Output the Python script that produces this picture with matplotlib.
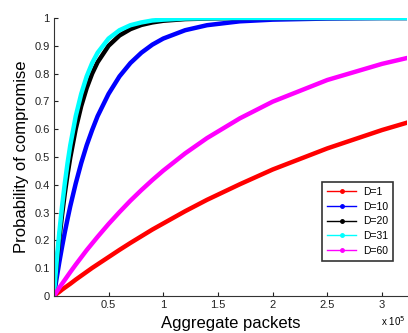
import matplotlib
matplotlib.use("Agg")
import matplotlib.pyplot as plt
from matplotlib.lines import Line2D

# x in units of 1e5 packets
packets = [0, 0.025, 0.05, 0.075, 0.1, 0.125, 0.15, 0.2, 0.25, 0.3, 0.35, 0.4,
           0.5, 0.6, 0.7, 0.8, 0.9, 1.0, 1.2, 1.4, 1.7, 2.0, 2.5, 3.0, 3.25]

d1 = [0, 0.008, 0.015, 0.023, 0.030, 0.037, 0.044, 0.059, 0.073, 0.087, 0.101, 0.114,
      0.140, 0.166, 0.191, 0.215, 0.239, 0.261, 0.305, 0.346, 0.402, 0.455, 0.531, 0.597, 0.626]
d10 = [0, 0.063, 0.122, 0.177, 0.229, 0.277, 0.323, 0.405, 0.478, 0.542, 0.597, 0.647,
       0.727, 0.790, 0.838, 0.875, 0.904, 0.926, 0.956, 0.974, 0.988, 0.994, 0.998, 1.0, 1.0]
d20 = [0, 0.109, 0.206, 0.292, 0.369, 0.437, 0.498, 0.601, 0.683, 0.748, 0.800, 0.841,
       0.900, 0.937, 0.960, 0.975, 0.984, 0.990, 0.996, 0.998, 1.0, 1.0, 1.0, 1.0, 1.0]
d31 = [0, 0.122, 0.229, 0.323, 0.405, 0.478, 0.542, 0.647, 0.727, 0.790, 0.838, 0.875,
       0.926, 0.956, 0.974, 0.984, 0.991, 0.994, 0.998, 0.999, 1.0, 1.0, 1.0, 1.0, 1.0]
d60 = [0, 0.015, 0.030, 0.044, 0.058, 0.072, 0.086, 0.113, 0.139, 0.165, 0.189, 0.213,
       0.259, 0.302, 0.343, 0.381, 0.417, 0.451, 0.513, 0.568, 0.639, 0.699, 0.777, 0.835, 0.858]

labels = ["D=1", "D=10", "D=20", "D=31", "D=60"]
colors = ["#ff0000", "#0000ff", "#000000", "#00ffff", "#ff00ff"]
series = [d1, d10, d20, d31, d60]

plt.rcParams["font.family"] = ["Liberation Sans", "DejaVu Sans"]

fig = plt.figure(figsize=(4.08, 3.33), dpi=100)
ax = fig.add_axes([0.132, 0.111, 0.866, 0.835])

x = [p * 1e5 for p in packets]
for ys, c in zip(series, colors):
    ax.plot(x, ys, color=c, linewidth=3.2, solid_capstyle="round", solid_joinstyle="round")

ax.set_xlim(0, 3.23e5)
ax.set_ylim(0, 1)
ax.set_xticks([0.5e5, 1e5, 1.5e5, 2e5, 2.5e5, 3e5])
ax.set_xticklabels(["0.5", "1", "1.5", "2", "2.5", "3"])
ax.set_yticks([i / 10 for i in range(11)])
ax.set_yticklabels(["0", "0.1", "0.2", "0.3", "0.4", "0.5", "0.6", "0.7", "0.8", "0.9", "1"])
ax.tick_params(direction="in", length=3, labelsize=8, colors="#222222", pad=3)

for s in ["top", "right"]:
    ax.spines[s].set_visible(False)
for s in ["left", "bottom"]:
    ax.spines[s].set_color("#333333")
    ax.spines[s].set_linewidth(0.8)

ax.set_xlabel("Aggregate packets", fontsize=12, labelpad=4)
ax.set_ylabel("Probability of compromise", fontsize=12, labelpad=4)
fig.text(0.993, 0.022, "x 10$^5$", fontsize=7, ha="right")

handles = [Line2D([0], [0], color=c, linewidth=1, marker=".", markersize=5) for c in colors]
leg = ax.legend(handles, labels, loc="lower right", bbox_to_anchor=(0.96, 0.126),
                borderaxespad=0, fontsize=7.5, frameon=True, fancybox=False,
                handlelength=2.8, handletextpad=0.6, labelspacing=0.45, borderpad=0.5)
leg.get_frame().set_edgecolor("black")
leg.get_frame().set_linewidth(1.2)

fig.savefig("out.png", dpi=100)
